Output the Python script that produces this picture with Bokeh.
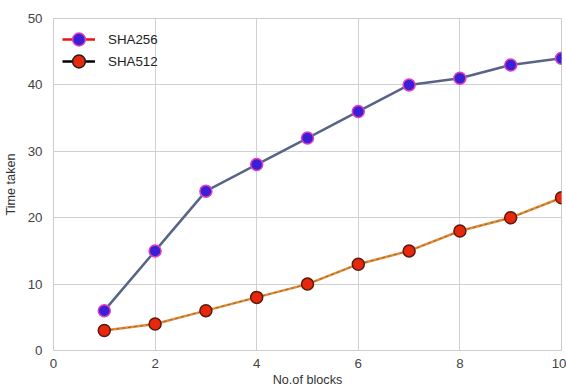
from bokeh.plotting import figure
from bokeh.models import Range1d, Legend, LegendItem, FixedTicker
from bokeh.embed import file_html
from bokeh.resources import INLINE

blocks = [1, 2, 3, 4, 5, 6, 7, 8, 9, 10]
sha256 = [6, 15, 24, 28, 32, 36, 40, 41, 43, 44]
sha512 = [3, 4, 6, 8, 10, 13, 15, 18, 20, 23]
x_ticks = [0, 2, 4, 6, 8, 10]
y_ticks = [0, 10, 20, 30, 40, 50]

p = figure(width=566, height=389, output_backend="svg", toolbar_location=None,
           x_range=Range1d(0, 10), y_range=Range1d(0, 50),
           min_border_left=53, min_border_right=5, min_border_top=18, min_border_bottom=38)

p.background_fill_color = "white"
p.border_fill_color = "white"
p.outline_line_color = "#cccccc"
p.outline_line_width = 1

for ax in (p.xaxis, p.yaxis):
    ax.axis_line_color = None
    ax.major_tick_line_color = None
    ax.minor_tick_line_color = None
    ax.major_label_text_font = "Liberation Sans"
    ax.major_label_text_font_size = "10pt"
    ax.major_label_text_color = "#444444"
    ax.axis_label_text_font = "Liberation Sans"
    ax.axis_label_text_font_size = "9.5pt"
    ax.axis_label_text_font_style = "normal"
    ax.axis_label_text_color = "#333333"

p.xaxis.ticker = FixedTicker(ticks=x_ticks)
p.yaxis.ticker = FixedTicker(ticks=y_ticks)
p.xaxis.axis_label = "No.of blocks"
p.yaxis.axis_label = "Time taken"
p.xaxis.major_label_standoff = 2
p.yaxis.major_label_standoff = 5
p.xaxis.axis_label_standoff = 2
p.yaxis.axis_label_standoff = 7

p.xgrid.grid_line_color = "#d0d0d0"
p.ygrid.grid_line_color = "#d0d0d0"
p.xgrid.grid_line_width = 1
p.ygrid.grid_line_width = 1

# SHA256
l1 = p.line(blocks, sha256, line_color="#50688c", line_width=2.5)
l1d = p.line(blocks, sha256, line_color="#b04060", line_width=1, line_dash="3 3", line_alpha=0.5)
m1 = p.scatter(blocks, sha256, size=12, fill_color="#3a1fd6", line_color="#e040c0", line_width=1.5)

# SHA512
l2 = p.line(blocks, sha512, line_color="#e38d3a", line_width=2.5)
l2d = p.line(blocks, sha512, line_color="#6a4a20", line_width=1, line_dash="3 3", line_alpha=0.6)
m2 = p.scatter(blocks, sha512, size=12, fill_color="#e8280c", line_color="#5a1a10", line_width=1.5)

# legend proxies (kept outside the visible range)
off = [-100]
lg1 = p.line(off, off, line_color="#ee1010", line_width=2.5)
lm1 = p.scatter(off, off, size=13, fill_color="#3a1fd6", line_color="#e040c0", line_width=1.5)
lg2 = p.line(off, off, line_color="#000000", line_width=2.5)
lm2 = p.scatter(off, off, size=13, fill_color="#e8280c", line_color="#202020", line_width=1.5)


def make_legend(label, rends, loc):
    lg = Legend(items=[LegendItem(label=label, renderers=rends)], location=loc)
    lg.border_line_color = None
    lg.background_fill_alpha = 0
    lg.label_text_font = "Liberation Sans"
    lg.label_text_font_size = "10pt"
    lg.label_text_color = "#222222"
    lg.glyph_width = 33
    lg.glyph_height = 32
    lg.spacing = 0
    lg.padding = 0
    lg.margin = 0
    lg.label_standoff = 13
    return lg


p.add_layout(make_legend("SHA256", [lg1, lm1], (9, 295)))
p.add_layout(make_legend("SHA512", [lg2, lm2], (9, 273)))

open("out.html", "w").write(file_html(p, INLINE))
